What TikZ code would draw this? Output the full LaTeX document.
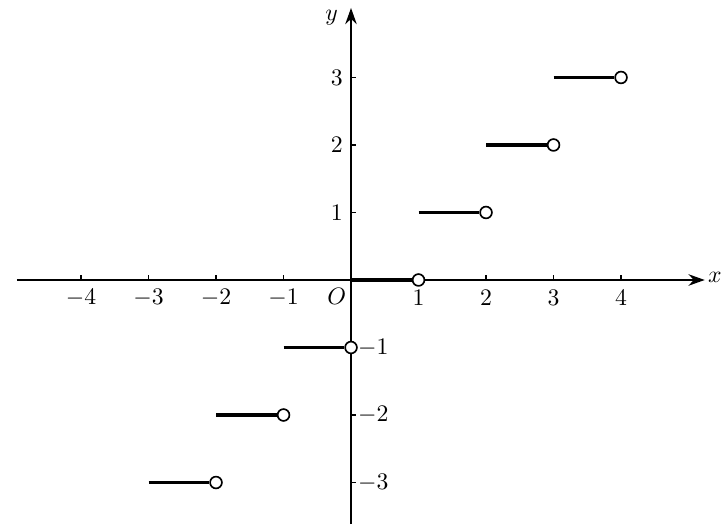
\documentclass[tikz,border=0pt]{standalone}
\usetikzlibrary{arrows.meta}

\tikzset{
  axis/.style={line width=0.6pt, -{Stealth[length=2.4mm,width=1.7mm]}},
  stair/.style={line width=1.5pt},
  hole/.style={circle, draw, line width=0.7pt, fill=white, inner sep=0pt, minimum size=1.75mm},
  tick/.style={line width=0.5pt}
}

\begin{document}
\begin{tikzpicture}[scale=1]
  \useasboundingbox (-5.2,-3.615) rectangle (5.481,4.148);

  % axes
  \coordinate (xl) at (-4.95,0);
  \coordinate (xr) at (5.24,0);
  \coordinate (yb) at (0,-3.615);
  \coordinate (yt) at (0,4.03);
  \draw [axis] (xl) -- (xr);
  \draw [axis] (yb) -- (yt);
  \node [inner sep=0pt] (xlab) at (5.39,0.04) {$x$};
  \node [left] (ylab) at (-0.07,3.88) {$y$};
  \node [] (O) at (-0.21,-0.25) {$O$};

  % ticks and labels
  \foreach \k in {-4,-3,-2,-1,2,3,4} {
    \draw [tick] (\k,0) -- (\k,0.07);
    \node [] (x\k) at (\k,-0.26) {$\k$};
  }
  \foreach \k in {-3,-2,1,2,3} {
    \draw [tick] (0,\k) -- (0.07,\k);
  }
  \foreach \k in {1,2,3} {
    \node [] (y\k) at (-0.21,\k) {$\k$};
  }
  \foreach \k in {-1,-2,-3} {
    \node [] (y\k) at (0.33,\k) {$\k$};
  }
  \node [] (x1) at (1,-0.26) {$1$};

  % floor steps
  \foreach \k in {-3,...,3} {
    \pgfmathtruncatemacro{\m}{\k+1}
    \coordinate (s\k) at (\k,\k);
    \node [hole] (e\k) at (\m,\k) {};
    \draw [stair] (s\k) -- (e\k);
  }
\end{tikzpicture}
\end{document}
